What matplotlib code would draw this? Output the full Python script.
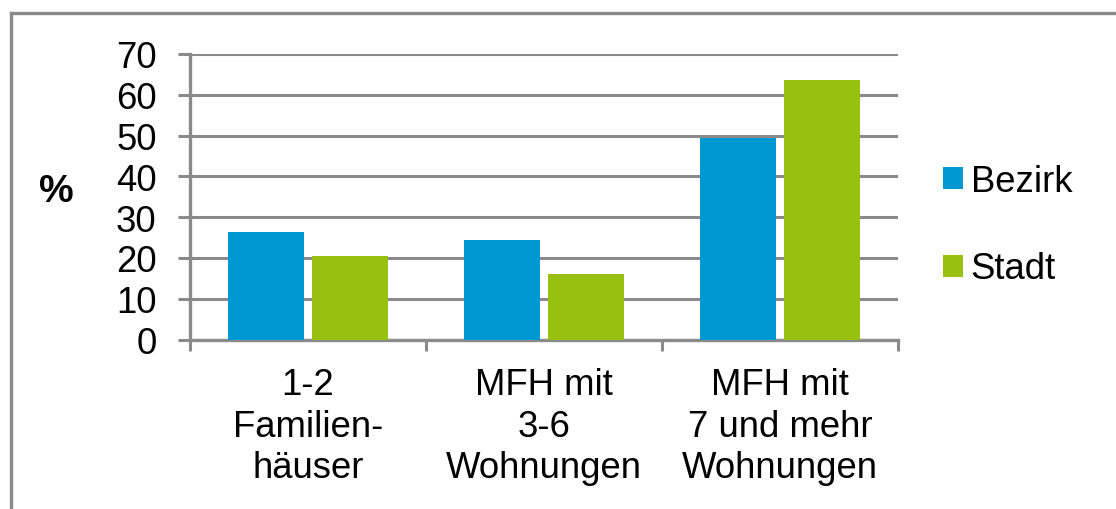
import matplotlib
matplotlib.use("Agg")
import matplotlib.pyplot as plt
from matplotlib.lines import Line2D
import numpy as np

plt.rcParams['font.family'] = ['Liberation Sans', 'DejaVu Sans']

categories = ["1-2\nFamilien-\nhäuser", "MFH mit\n3-6\nWohnungen", "MFH mit\n7 und mehr\nWohnungen"]
series_names = ["Bezirk", "Stadt"]
bezirk = [26.3, 24.3, 49.4]
stadt = [20.4, 16.1, 63.7]
yticks = [0, 10, 20, 30, 40, 50, 60, 70]

blue = "#0098D2"
green = "#98C010"
gray = "#8A8A8A"
fs = 26.3

fig = plt.figure(figsize=(11.16, 5.10), dpi=100)
ax = fig.add_axes([190/1116, 1-340.6/510, (898-190)/1116, (340.6-55)/510])

x = np.arange(len(categories))
w = 0.322
b1 = ax.bar(x - 0.18, bezirk, width=w, color=blue, label=series_names[0], zorder=3)
b2 = ax.bar(x + 0.18, stadt, width=w, color=green, label=series_names[1], zorder=3)

ax.set_xlim(-0.5, 2.5)
ax.set_ylim(0, 70)
ax.set_yticks(yticks)
ax.set_yticklabels([str(v) for v in yticks], fontsize=fs)
ax.set_xticks([-0.5, 0.5, 1.5, 2.5], minor=False)
ax.set_xticklabels([])
ax.set_xticks(x, minor=True)
ax.set_xticklabels(categories, minor=True, fontsize=fs, linespacing=1.24)
ax.tick_params(axis='x', which='minor', length=0, pad=20)
ax.tick_params(axis='x', which='major', length=8, width=2.2, color=gray, direction='out')
ax.tick_params(axis='y', length=9, width=2.2, color=gray, direction='out', pad=15)

ax.yaxis.grid(True, color=gray, linewidth=2.2, zorder=0)
ax.set_axisbelow(True)
for s in ['top', 'right']:
    ax.spines[s].set_visible(False)
for s in ['left', 'bottom']:
    ax.spines[s].set_color(gray)
    ax.spines[s].set_linewidth(2.4)

fig.text(56/1116, 1-192/510, "%", fontsize=28, fontweight='bold', ha='center', va='center')

leg = fig.legend(handles=[b1, b2], loc='center left', bbox_to_anchor=(925/1116, 1-226/510),
                 frameon=False, fontsize=fs, handlelength=0.55, handleheight=0.55,
                 handletextpad=0.2, labelspacing=1.45, borderpad=0)

fig.add_artist(Line2D([11/1116, 11/1116], [0, 1-14/510], color=gray, linewidth=2.4, transform=fig.transFigure))
fig.add_artist(Line2D([11/1116, 1], [1-14/510, 1-14/510], color=gray, linewidth=2.4, transform=fig.transFigure))

fig.savefig("out.png", dpi=100)
